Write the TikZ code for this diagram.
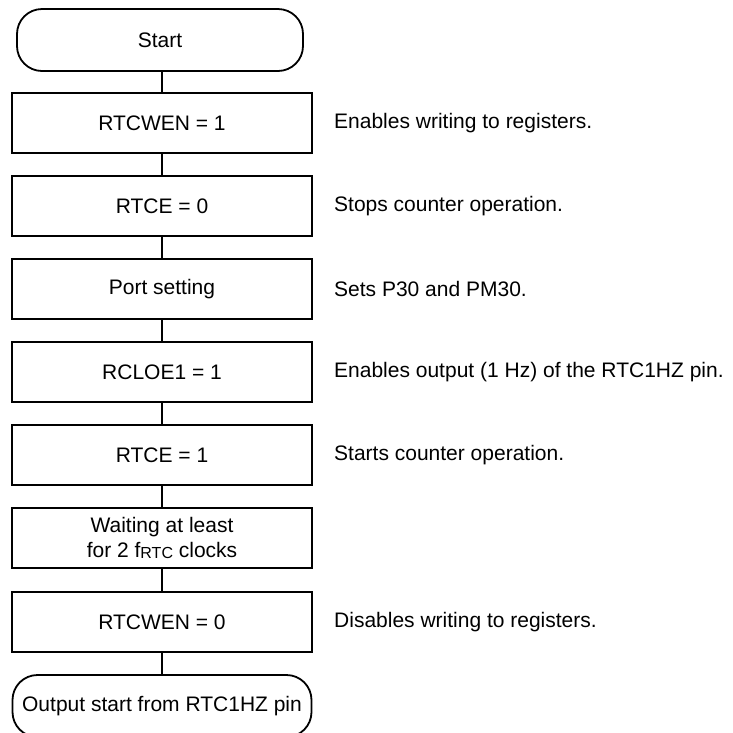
\documentclass[tikz,border=0pt]{standalone}
\usepackage{fontspec}
\setmainfont{Liberation Sans}
\begin{document}
\begin{tikzpicture}[x=1pt,y=-1pt,
  every node/.style={font=\fontsize{21}{25}\selectfont},
  box/.style={draw, line width=1.8pt, minimum width=300pt, minimum height=60pt, inner sep=0pt, align=center},
  term/.style={draw, line width=1.8pt, rounded corners=25pt, inner sep=0pt, minimum height=62pt},
  note/.style={anchor=west, inner sep=0pt},
  conn/.style={line width=1.8pt}]
\useasboundingbox (0,0) rectangle (733,732);
\node[term, minimum width=286pt] (start) at (160,40) {Start};
\node[box] (b1) at (162,123) {RTCWEN = 1};
\node[box] (b2) at (162,206) {RTCE = 0};
\node[box] (b3) at (162,289) {Port setting};
\node[box] (b4) at (162,372) {RCLOE1 = 1};
\node[box] (b5) at (162,455) {RTCE = 1};
\node[box] (b6) at (162,538) {Waiting at least\\for 2 f\raisebox{-0.5pt}{\fontsize{16}{16}\selectfont RTC} clocks};
\node[box] (b7) at (162,622) {RTCWEN = 0};
\node[term, minimum width=299pt] (end) at (162,706) {Output start from RTC1HZ pin};
\node[note] (n1) at (334,123) {Enables writing to registers.};
\node[note] (n2) at (334,206) {Stops counter operation.};
\node[note] (n3) at (334,289) {Sets P30 and PM30.};
\node[note] (n4) at (334,372) {Enables output (1 Hz) of the RTC1HZ pin.};
\node[note] (n5) at (334,455) {Starts counter operation.};
\node[note] (n7) at (334,622) {Disables writing to registers.};
\draw[conn] (b1.north) -- (b1.north |- start.south);
\draw[conn] (b1) -- (b2);
\draw[conn] (b2) -- (b3);
\draw[conn] (b3) -- (b4);
\draw[conn] (b4) -- (b5);
\draw[conn] (b5) -- (b6);
\draw[conn] (b6) -- (b7);
\draw[conn] (b7) -- (end);
\end{tikzpicture}
\end{document}
